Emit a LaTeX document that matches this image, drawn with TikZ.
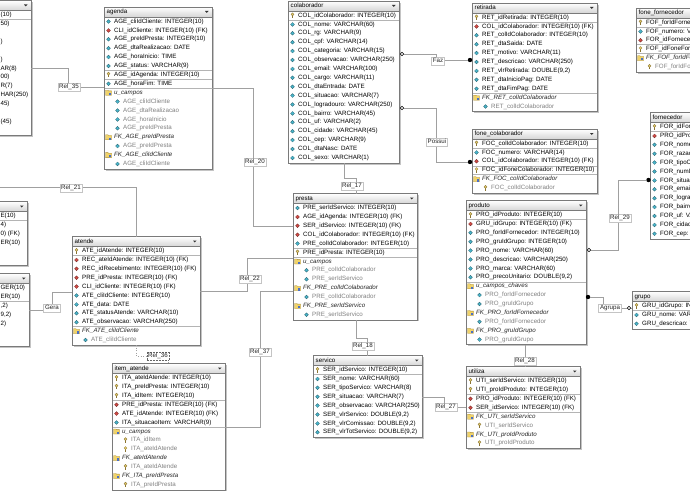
\documentclass[tikz,border=0pt]{standalone}
\usepackage{fontspec}
\setmainfont{Liberation Sans}
\definecolor{boxc}{HTML}{7A7A7A}
\definecolor{shadc}{HTML}{C4C4C4}
\definecolor{hdrc}{HTML}{D6D6D6}
\definecolor{sepc}{HTML}{B4B4B4}
\definecolor{connc}{HTML}{A0A0A0}
\definecolor{relc}{HTML}{C4C4C4}
\definecolor{cyanc}{HTML}{49B6CC}
\definecolor{redc}{HTML}{D24A45}
\definecolor{keyc}{HTML}{E2CB6E}
\definecolor{keyd}{HTML}{8A7432}
\definecolor{foldc}{HTML}{F0D36A}
\definecolor{foldd}{HTML}{A8892E}
\definecolor{foldb}{HTML}{4C6FC4}
\tikzset{
  conn/.style={draw=connc, line width=0.6pt},
  rel/.style={draw=relc, fill=white, inner xsep=1.4pt, inner ysep=1pt, text=black!85, line width=0.5pt, text height=4.6pt, text depth=1.3pt},
  rowtext/.style={anchor=west, inner sep=0pt, text height=4.6pt, text depth=1.3pt},
  rowa/.style={rowtext, text=black},
  rowi/.style={rowtext, text=black!85, font=\fontsize{6.2}{7.4}\selectfont\itshape},
  rows/.style={rowtext, text=black!50},
  tbox/.style={fill=white, inner sep=0pt, outer sep=0pt},
  fdot/.style={circle, fill=black, inner sep=0pt, minimum size=4.4pt},
  odot/.style={circle, draw=black, fill=white, inner sep=0pt, minimum size=3.4pt, line width=0.5pt},
}
\newcommand\diai[3]{\filldraw[fill=#3, draw=#3!55!black, line width=0.3pt] (#1-1.9,#2) -- (#1,#2-1.9) -- (#1+1.9,#2) -- (#1,#2+1.9) -- cycle;}
\newcommand\keyi[2]{\draw[keyd, line width=0.9pt] (#1,#2-0.3) -- (#1,#2+2.5); \filldraw[fill=keyc, draw=keyd, line width=0.3pt] (#1,#2-1.2) circle (1.5pt);}
\newcommand\foldi[2]{\filldraw[fill=foldc, draw=foldd, line width=0.3pt] (#1-3,#2-2.4) -- (#1-0.6,#2-2.4) -- (#1,#2-1.8) -- (#1+3,#2-1.8) -- (#1+3,#2+2.6) -- (#1-3,#2+2.6) -- cycle; \fill[foldb] (#1+0.6,#2+0.3) rectangle (#1+2.7,#2+2.4);}
\newcommand\ico[5]{%
  \if#1k \keyi{#2+4.5}{#3}\node[rowa] (#5) at (#2+10,#3) {#4};\fi
  \if#1a \diai{#2+4.5}{#3}{cyanc}\node[rowa] (#5) at (#2+10,#3) {#4};\fi
  \if#1f \diai{#2+4.5}{#3}{redc}\node[rowa] (#5) at (#2+10,#3) {#4};\fi
  \if#1i \foldi{#2+4.5}{#3}\node[rowi] (#5) at (#2+10,#3) {#4};\fi
  \if#1s \diai{#2+13.5}{#3}{cyanc}\node[rows] (#5) at (#2+19,#3) {#4};\fi
  \if#1t \keyi{#2+13.5}{#3}\node[rows] (#5) at (#2+19,#3) {#4};\fi
  \if#1p \node[rowa] (#5) at (0.4,#3) {#4};\fi
}
\newcommand\ertable[8]{%
  \pgfmathsetmacro\ebot{#3+10.6+#6*8.9}%
  \pgfmathsetmacro\eright{#2+#4}%
  \fill[shadc] (#2+1.6,#3+1.6) rectangle (\eright+1.6,\ebot+1.6);
  \node[tbox, minimum width=#4pt, minimum height={(\ebot-#3)*1pt}, anchor=north west] (#1) at (#2,#3) {};
  \shade[top color=white, bottom color=hdrc] (#2,#3) rectangle (\eright,#3+10);
  \draw[boxc, line width=0.5pt] (#2,#3+10) -- (\eright,#3+10);
  \node[rowa] (#1-title) at (#2+2.5,#3+5.2) {#5};
  \fill[black!80] (\eright-7,#3+4) -- (\eright-3.5,#3+4) -- (\eright-5.25,#3+6) -- cycle;
  \foreach \k in {#8} {\pgfmathsetmacro\sy{#3+14.5+(\k-0.5)*8.9}\draw[sepc, line width=0.5pt] (#2,\sy) -- (\eright,\sy);}
  \foreach \rtyp/\rtxt [count=\i] in {#7} {%
    \pgfmathsetmacro\ry{#3+14.5+(\i-1)*8.9}%
    \ico{\rtyp}{#2}{\ry}{\rtxt}{#1-\i}%
  }
  \draw[boxc, line width=0.6pt] (#1.north west) rectangle (#1.south east);
}
\begin{document}
\begin{tikzpicture}[x=1pt, y=-1pt, font=\fontsize{6.2}{7.4}\selectfont]
\useasboundingbox (0,0) rectangle (690,500);
\fill[white] (0,0) rectangle (690,500);

% partial tables at the left edge
\ertable{cli}{-80}{0.5}{111}{}{14}{p/{(10)},p/{50)},p/{},p/{)},p/{},p/{)},p/{AR(8)},p/{00)},p/{R(7)},p/{HAR(250)},p/{45)},p/{},p/{(45)},p/{}}{1}
\ertable{l2}{-80}{201.5}{107}{}{6}{p/{E(10)},p/{4)},p/{0) (FK)},p/{ER(10)},p/{},p/{}}{1}
\ertable{l3}{-80}{273.5}{109}{}{7}{p/{GER(10)},p/{ER(10)},p/{,2)},p/{9,2)},p/{2)},p/{},p/{}}{2}

\ertable{agenda}{104}{7}{108}{agenda}{17}{
 a/{AGE\_cliIdCliente: INTEGER(10)},
 f/{CLI\_idCliente: INTEGER(10) (FK)},
 a/{AGE\_preIdPresta: INTEGER(10)},
 a/{AGE\_dtaRealizacao: DATE},
 a/{AGE\_horaInicio: TIME},
 a/{AGE\_status: VARCHAR(9)},
 k/{AGE\_idAgenda: INTEGER(10)},
 a/{AGE\_horaFim: TIME},
 i/{u\_campos},
 s/{AGE\_cliIdCliente},
 s/{AGE\_dtaRealizacao},
 s/{AGE\_horaInicio},
 s/{AGE\_preIdPresta},
 i/{FK\_AGE\_preIdPresta},
 s/{AGE\_preIdPresta},
 i/{FK\_AGE\_cliIdCliente},
 s/{AGE\_cliIdCliente}}{6,7,8}

\ertable{colaborador}{288}{1}{111}{colaborador}{17}{
 k/{COL\_idColaborador: INTEGER(10)},
 a/{COL\_nome: VARCHAR(60)},
 a/{COL\_rg: VARCHAR(9)},
 a/{COL\_cpf: VARCHAR(14)},
 a/{COL\_categoria: VARCHAR(15)},
 a/{COL\_observacao: VARCHAR(250)},
 a/{COL\_email: VARCHAR(100)},
 a/{COL\_cargo: VARCHAR(11)},
 a/{COL\_dtaEntrada: DATE},
 a/{COL\_situacao: VARCHAR(7)},
 a/{COL\_logradouro: VARCHAR(250)},
 a/{COL\_bairro: VARCHAR(45)},
 a/{COL\_uf: VARCHAR(2)},
 a/{COL\_cidade: VARCHAR(45)},
 a/{COL\_cep: VARCHAR(9)},
 a/{COL\_dtaNasc: DATE},
 a/{COL\_sexo: VARCHAR(1)}}{1}

\ertable{retirada}{472}{3}{125}{retirada}{11}{
 k/{RET\_idRetirada: INTEGER(10)},
 f/{COL\_idColaborador: INTEGER(10) (FK)},
 a/{RET\_colIdColaborador: INTEGER(10)},
 a/{RET\_dtaSaida: DATE},
 a/{RET\_motivo: VARCHAR(11)},
 a/{RET\_descricao: VARCHAR(250)},
 a/{RET\_vlrRetirada: DOUBLE(9,2)},
 a/{RET\_dtaInicioPag: DATE},
 a/{RET\_dtaFimPag: DATE},
 i/{FK\_RET\_colIdColaborador},
 s/{RET\_colIdColaborador}}{1,9}

\ertable{fonecol}{472}{129}{125}{fone\_colaborador}{6}{
 k/{FOC\_colIdColaborador: INTEGER(10)},
 a/{FOC\_numero: VARCHAR(14)},
 f/{COL\_idColaborador: INTEGER(10) (FK)},
 k/{FOC\_idFoneColaborador: INTEGER(10)},
 i/{FK\_FOC\_colIdColaborador},
 t/{FOC\_colIdColaborador}}{1,3,4}

\ertable{fonefor}{636}{8}{130}{fone\_fornecedor}{6}{
 k/{FOF\_forIdFornecedor: INTEGER(10)},
 a/{FOF\_numero: VARCHAR(14)},
 f/{FOR\_idFornecedor: INTEGER(10) (FK)},
 k/{FOF\_idFoneFornecedor: INTEGER(10)},
 i/{FK\_FOF\_forIdFornecedor},
 t/{FOF\_forIdFornecedor}}{1,3,4}

\ertable{fornecedor}{650}{112.5}{130}{fornecedor}{13}{
 k/{FOR\_idFornecedor: INTEGER(10)},
 f/{PRO\_idProduto: INTEGER(10) (FK)},
 a/{FOR\_nome: VARCHAR(60)},
 a/{FOR\_razaoSocial: VARCHAR(60)},
 a/{FOR\_tipoCadastro: VARCHAR(8)},
 a/{FOR\_numDocumento: VARCHAR(14)},
 a/{FOR\_situacao: VARCHAR(7)},
 a/{FOR\_email: VARCHAR(100)},
 a/{FOR\_logradouro: VARCHAR(250)},
 a/{FOR\_bairro: VARCHAR(45)},
 a/{FOR\_uf: VARCHAR(2)},
 a/{FOR\_cidade: VARCHAR(45)},
 a/{FOR\_cep: VARCHAR(9)}}{1}

\ertable{produto}{466}{200.5}{120}{produto}{15}{
 k/{PRO\_idProduto: INTEGER(10)},
 f/{GRU\_idGrupo: INTEGER(10) (FK)},
 a/{PRO\_forIdFornecedor: INTEGER(10)},
 a/{PRO\_gruIdGrupo: INTEGER(10)},
 a/{PRO\_nome: VARCHAR(60)},
 a/{PRO\_descricao: VARCHAR(250)},
 a/{PRO\_marca: VARCHAR(60)},
 a/{PRO\_precoUnitario: DOUBLE(9,2)},
 i/{u\_campos\_chaves},
 s/{PRO\_forIdFornecedor},
 s/{PRO\_gruIdGrupo},
 i/{FK\_PRO\_forIdFornecedor},
 s/{PRO\_forIdFornecedor},
 i/{FK\_PRO\_gruIdGrupo},
 s/{PRO\_gruIdGrupo}}{1,8}

\ertable{grupo}{632}{291.5}{120}{grupo}{3}{
 k/{GRU\_idGrupo: INTEGER(10)},
 a/{GRU\_nome: VARCHAR(60)},
 a/{GRU\_descricao: VARCHAR(250)}}{1}

\ertable{presta}{293}{193.5}{124}{presta}{13}{
 a/{PRE\_serIdServico: INTEGER(10)},
 f/{AGE\_idAgenda: INTEGER(10) (FK)},
 f/{SER\_idServico: INTEGER(10) (FK)},
 f/{COL\_idColaborador: INTEGER(10) (FK)},
 a/{PRE\_colIdColaborador: INTEGER(10)},
 k/{PRE\_idPresta: INTEGER(10)},
 i/{u\_campos},
 s/{PRE\_colIdColaborador},
 s/{PRE\_serIdServico},
 i/{FK\_PRE\_colIdColaborador},
 s/{PRE\_colIdColaborador},
 i/{FK\_PRE\_serIdServico},
 s/{PRE\_serIdServico}}{5,6}

\ertable{atende}{72}{236.5}{128}{atende}{11}{
 k/{ATE\_idAtende: INTEGER(10)},
 f/{REC\_ateIdAtende: INTEGER(10) (FK)},
 f/{REC\_idRecebimento: INTEGER(10) (FK)},
 f/{PRE\_idPresta: INTEGER(10) (FK)},
 f/{CLI\_idCliente: INTEGER(10) (FK)},
 a/{ATE\_cliIdCliente: INTEGER(10)},
 a/{ATE\_data: DATE},
 a/{ATE\_statusAtende: VARCHAR(10)},
 a/{ATE\_observacao: VARCHAR(250)},
 i/{FK\_ATE\_cliIdCliente},
 s/{ATE\_cliIdCliente}}{1,9}

\ertable{itema}{112}{363.5}{113}{item\_atende}{13}{
 k/{ITA\_ateIdAtende: INTEGER(10)},
 k/{ITA\_preIdPresta: INTEGER(10)},
 k/{ITA\_idItem: INTEGER(10)},
 f/{PRE\_idPresta: INTEGER(10) (FK)},
 f/{ATE\_idAtende: INTEGER(10) (FK)},
 a/{ITA\_situacaoItem: VARCHAR(9)},
 i/{u\_campos},
 t/{ITA\_idItem},
 t/{ITA\_ateIdAtende},
 i/{FK\_ateIdAtende},
 t/{ITA\_ateIdAtende},
 i/{FK\_ITA\_preIdPresta},
 t/{ITA\_preIdPresta}}{3,6}

\ertable{servico}{313}{355.5}{109}{servico}{8}{
 k/{SER\_idServico: INTEGER(10)},
 a/{SER\_nome: VARCHAR(60)},
 a/{SER\_tipoServico: VARCHAR(8)},
 a/{SER\_situacao: VARCHAR(7)},
 a/{SER\_observacao: VARCHAR(250)},
 a/{SER\_vlrServico: DOUBLE(9,2)},
 a/{SER\_vlrComissao: DOUBLE(9,2)},
 a/{SER\_vlrTotServico: DOUBLE(9,2)}}{1}

\ertable{utiliza}{466}{366.5}{114}{utiliza}{8}{
 k/{UTI\_serIdServico: INTEGER(10)},
 k/{UTI\_proIdProduto: INTEGER(10)},
 f/{PRO\_idProduto: INTEGER(10) (FK)},
 f/{SER\_idServico: INTEGER(10) (FK)},
 i/{FK\_UTI\_serIdServico},
 t/{UTI\_serIdServico},
 i/{FK\_UTI\_proIdProduto},
 t/{UTI\_proIdProduto}}{2,4}

% ---------- connectors ----------
% Rel_35
\draw[conn] (cli.east |- 0,68) -| (68,87) -- (agenda.west |- 0,87);
\node[rel] (rel35) at (69,87) {Rel\_35};
% Rel_20
\draw[conn] (agenda.east |- 0,88) -| (253,226) -- (presta.west |- 0,226);
\node[rel] (rel20) at (255,162) {Rel\_20};
% Rel_17
\draw[conn] (344,0 |- colaborador.south) |- (356,178) -- (356,0 |- presta.north);
\node[rel] (rel17) at (352,186) {Rel\_17};
% Faz
\node[odot] (fazo) at (402,54) {};
\node[fdot] (fazd) at (470,60) {};
\draw[conn] (fazo) -- (436,54) |- (fazd);
\node[rel] (faz) at (438,61) {Faz};
% Possui
\node[odot] (poso) at (402,108) {};
\node[fdot] (posd) at (470,162) {};
\draw[conn] (poso) -- (436,108) |- (posd);
\node[rel] (possui) at (437,142) {Possui};
% Rel_29
\node[fdot] (r29d) at (648.5,180) {};
\node[odot] (r29o) at (589,250) {};
\draw[conn] (r29d) -| (618,250) -- (r29o);
\node[rel] (rel29) at (620,218) {Rel\_29};
% Agrupa
\node[fdot] (agd) at (588,297) {};
\node[odot] (ago) at (629,308) {};
\draw[conn] (agd) -| (603,308) -- (ago);
\draw[conn] (ago) -- (grupo.west |- ago);
\node[rel] (agrupa) at (610,308) {Agrupa};
% Rel_21
\coordinate (r21s) at (0,187);
\draw[conn] (r21s) -| (136,0 |- atende.north);
\node[rel] (rel21) at (71,188) {Rel\_21};
% Gera
\draw[conn] (l3.east |- 0,310) -| (52,292) -- (atende.west |- 0,292);
\node[rel] (gera) at (52,308) {Gera};
% Rel_22
\draw[conn] (atende.east |- 0,291) -| (247,258) -- (presta.west |- 0,258);
\node[rel] (rel22) at (250,279) {Rel\_22};
% Rel_37
\draw[conn] (presta.west |- 0,291) -| (260,427) -- (itema.east |- 0,427);
\node[rel] (rel37) at (260,352) {Rel\_37};
% Rel_36 (dotted)
\draw[conn, dotted] (136,0 |- atende.south) |- (168,356) -- (168,0 |- itema.north);
\node[rel, draw=black!60, densely dotted] (rel36) at (158,356) {Rel\_36};
% Rel_18
\draw[conn] (356,0 |- presta.south) |- (367,338) -- (367,0 |- servico.north);
\node[rel] (rel18) at (363,346) {Rel\_18};
% Rel_27
\draw[conn] (servico.east |- 0,397) -| (444,407) -- (utiliza.west |- 0,407);
\node[rel] (rel27) at (446,407) {Rel\_27};
% Rel_28
\draw[conn] (525,0 |- produto.south) -- (525,0 |- utiliza.north);
\node[rel] (rel28) at (525,361) {Rel\_28};
\end{tikzpicture}
\end{document}
